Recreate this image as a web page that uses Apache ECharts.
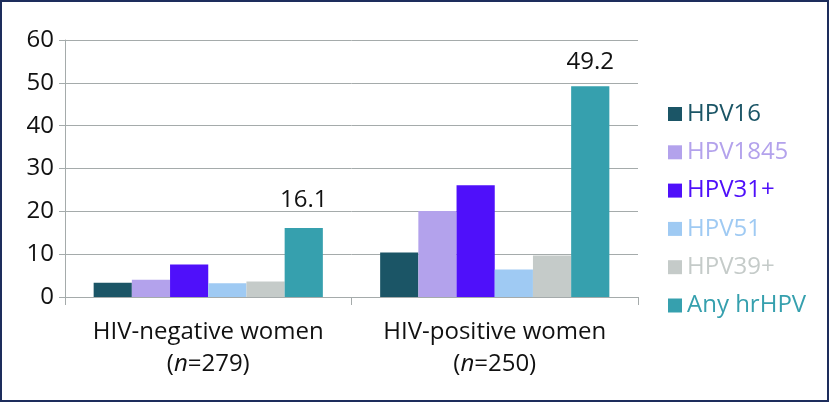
<!DOCTYPE html>
<html><head><meta charset="utf-8">
<script src="https://cdn.jsdelivr.net/npm/echarts@6/dist/echarts.min.js"></script>
<style>html,body{margin:0;padding:0;background:#fff}
#c{width:829px;height:402px;box-sizing:border-box;border:2px solid #1d2d5c;}</style>
</head><body><div id="c"></div>
<script>
const categories = ['HIV-negative women', 'HIV-positive women'];
const sampleSizes = ['279', '250'];
const seriesNames = ['HPV16', 'HPV1845', 'HPV31+', 'HPV51', 'HPV39+', 'Any hrHPV'];
const hpv16 = [3.3, 10.4];
const hpv1845 = [4.0, 20.1];
const hpv31 = [7.6, 26.1];
const hpv51 = [3.2, 6.4];
const hpv39 = [3.6, 9.7];
const anyHr = [16.1, 49.2];
const yTicks = [0, 10, 20, 30, 40, 50, 60];
const colors = ['#1b5566', '#b3a2ec', '#4f10fa', '#9fcaf3', '#c5cbc9', '#36a0ae'];
const labelDistances = [16, 12];
const values = [hpv16, hpv1845, hpv31, hpv51, hpv39, anyHr];
const FONT = 'Open Sans';

const chart = echarts.init(document.getElementById('c'));
chart.setOption({
  animation: false,
  textStyle: {fontFamily: FONT},
  grid: {left: 63, right: 189, top: 38, bottom: 103},
  legend: {
    orient: 'vertical', left: 661, top: 95,
    itemWidth: 14, itemHeight: 14, itemGap: 14.3,
    icon: 'rect',
    data: seriesNames.map((n, i) => ({name: n, textStyle: {color: colors[i]}})),
    textStyle: {fontSize: 24, fontFamily: FONT, lineHeight: 24}
  },
  xAxis: {
    type: 'category', data: categories,
    axisLine: {lineStyle: {color: '#a5abab', width: 1}},
    axisTick: {show: true, length: 8, lineStyle: {color: '#a5abab'}},
    axisLabel: {
      interval: 0, hideOverlap: false,
      margin: 19, color: '#111',
      formatter: (v, i) => v + '\n{p|(}{n|n}{p|=' + sampleSizes[i] + ')}',
      fontSize: 24, lineHeight: 32,
      rich: {p: {fontSize: 24, lineHeight: 32, color: '#111', fontFamily: FONT}, n: {fontSize: 24, lineHeight: 32, fontStyle: 'italic', color: '#111', fontFamily: FONT}}
    }
  },
  yAxis: {
    type: 'value', min: 0, max: 60, interval: 10,
    axisLine: {show: true, lineStyle: {color: '#a5abab'}},
    axisTick: {show: true, length: 6, lineStyle: {color: '#a5abab'}},
    splitLine: {lineStyle: {color: '#a5abab'}},
    axisLabel: {fontSize: 24, color: '#111', margin: 11,
      formatter: v => yTicks.includes(v) ? String(v) : ''}
  },
  series: seriesNames.map((n, i) => ({
    name: n, type: 'bar',
    data: values[i].map((v, j) => ({value: v, label: {distance: labelDistances[j]}})),
    barGap: '0%', barCategoryGap: '20%',
    itemStyle: {color: colors[i]},
    label: {show: i === 5, position: 'top', fontSize: 24, color: '#111', formatter: p => p.value.toFixed(1)}
  }))
});
</script></body></html>
